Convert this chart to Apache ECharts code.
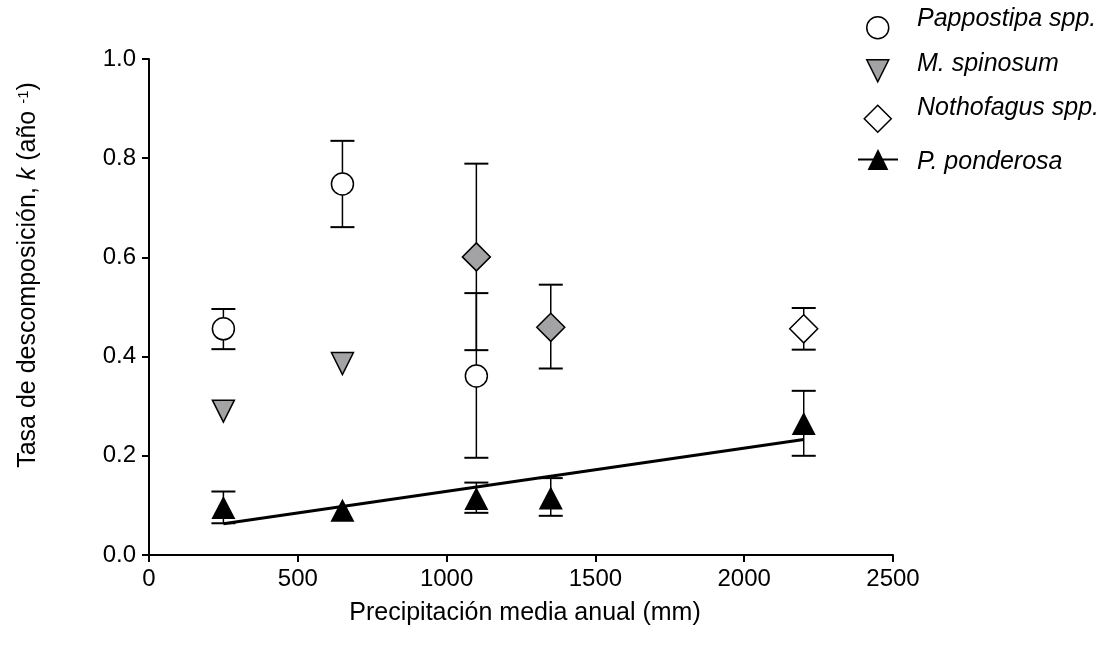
<!DOCTYPE html>
<html>
<head>
<meta charset="utf-8">
<script src="https://cdn.jsdelivr.net/npm/echarts@6/dist/echarts.min.js"></script>
<style>
  html, body { margin: 0; padding: 0; background: #ffffff; }
  #chart { width: 1108px; height: 646px; }
</style>
</head>
<body>
<div id="chart"></div>
<script>
// Tasa de descomposición k (año^-1) frente a la precipitación media anual (mm)

// Pappostipa spp. (media y límites de la barra de error)
const pappostipaX = [250, 650, 1100];
const pappostipaK = [0.456, 0.748, 0.361];
const pappostipaLow = [0.415, 0.661, 0.196];
const pappostipaHigh = [0.496, 0.835, 0.528];

// M. spinosum
const spinosumX = [250, 650];
const spinosumK = [0.290, 0.386];

// Nothofagus spp. (los dos primeros sitios con relleno gris)
const nothofagusX = [1100, 1350, 2200];
const nothofagusK = [0.601, 0.459, 0.456];
const nothofagusLow = [0.413, 0.376, 0.414];
const nothofagusHigh = [0.789, 0.545, 0.498];
const nothofagusGray = [true, true, false];

// P. ponderosa
const ponderosaX = [250, 650, 1100, 1350, 2200];
const ponderosaK = [0.096, 0.090, 0.114, 0.115, 0.265];
const ponderosaLow = [0.064, null, 0.085, 0.079, 0.200];
const ponderosaHigh = [0.128, null, 0.146, 0.155, 0.331];

// Recta de regresión de P. ponderosa
const fitX = [250, 2200];
const fitK = [0.063, 0.233];

// Marcas de los ejes
const xTicks = [0, 500, 1000, 1500, 2000, 2500];
const yTicks = [0.0, 0.2, 0.4, 0.6, 0.8, 1.0];

const FONT = "'Liberation Sans', Arial, sans-serif";
const GRAY = '#a3a3a6';
const DOWN_TRIANGLE = 'path://M0,0 L20,0 L10,20 Z';

const pairs = (xs, ys) => xs.map((x, i) => [x, ys[i]]);
const bars = (xs, lo, hi) => xs
  .map((x, i) => [x, lo[i], hi[i]])
  .filter(d => d[1] != null && d[2] != null);

// Barra de error vertical con remates horizontales
function errorBar(params, api) {
  const x = api.value(0);
  const pLo = api.coord([x, api.value(1)]);
  const pHi = api.coord([x, api.value(2)]);
  const half = 12;
  return {
    type: 'group',
    children: [
      { type: 'line', shape: { x1: pLo[0], y1: pLo[1], x2: pHi[0], y2: pHi[1] },
        style: { stroke: '#000', lineWidth: 1.5 } },
      { type: 'line', shape: { x1: pLo[0] - half, y1: pLo[1], x2: pLo[0] + half, y2: pLo[1] },
        style: { stroke: '#000', lineWidth: 2 } },
      { type: 'line', shape: { x1: pHi[0] - half, y1: pHi[1], x2: pHi[0] + half, y2: pHi[1] },
        style: { stroke: '#000', lineWidth: 2 } }
    ]
  };
}

function errorSeries(name, data) {
  return {
    name: name,
    type: 'custom',
    renderItem: errorBar,
    data: data,
    encode: { x: 0, y: [1, 2] },
    z: 2,
    silent: true
  };
}

// Leyenda: un componente para cada símbolo y otro para cada texto
function legendIcon(name, cx, cy, w, h, itemStyle, extra) {
  return Object.assign({
    data: [name],
    left: cx - w / 2,
    top: cy - h / 2,
    padding: 0,
    itemWidth: w,
    itemHeight: h,
    selectedMode: false,
    symbolKeepAspect: true,
    itemStyle: itemStyle,
    formatter: () => '',
    textStyle: { fontSize: 1 }
  }, extra || {});
}

function legendLabel(name, x, cy) {
  return {
    data: [name],
    left: x - 6,
    top: cy - 12.5,
    padding: 0,
    itemWidth: 1,
    itemHeight: 25,
    icon: 'none',
    selectedMode: false,
    textStyle: { fontFamily: FONT, fontSize: 25, fontStyle: 'italic', color: '#000', lineHeight: 25 }
  };
}

const openStyle = { color: '#fff', borderColor: '#000', borderWidth: 1.5 };

const chart = echarts.init(document.getElementById('chart'), null, { renderer: 'canvas' });

chart.setOption({
  backgroundColor: '#ffffff',
  animation: false,
  grid: { left: 149, right: 215, top: 59, bottom: 91 },
  legend: [
    legendIcon('Pappostipa spp.', 877, 27, 22, 22, openStyle),
    legendIcon('M. spinosum', 877, 70, 22, 22, { color: GRAY, borderColor: '#000', borderWidth: 1.5 }, { icon: DOWN_TRIANGLE }),
    legendIcon('Nothofagus spp.', 877, 118, 27, 27, openStyle),
    legendIcon('P. ponderosa', 877, 159.5, 40, 26, { color: '#000', borderColor: '#000', borderWidth: 0 }),
    legendLabel('Pappostipa spp.', 917, 19.5),
    legendLabel('M. spinosum', 917, 64),
    legendLabel('Nothofagus spp.', 917, 108.5),
    legendLabel('P. ponderosa', 917, 162)
  ],
  xAxis: {
    type: 'value',
    min: xTicks[0],
    max: xTicks[xTicks.length - 1],
    interval: 500,
    name: 'Precipitación media anual (mm)',
    nameLocation: 'middle',
    nameGap: 46,
    nameTextStyle: { fontFamily: FONT, fontSize: 25, color: '#000', padding: [0, 0, 0, 8] },
    axisLine: { show: true, onZero: false, lineStyle: { color: '#000', width: 2 } },
    axisTick: { show: true, inside: false, length: 7, customValues: xTicks,
      lineStyle: { color: '#000', width: 2 } },
    axisLabel: { show: true, margin: 12, customValues: xTicks,
      formatter: v => String(v),
      fontFamily: FONT, fontSize: 24, color: '#000' },
    splitLine: { show: false }
  },
  yAxis: {
    type: 'value',
    min: yTicks[0],
    max: yTicks[yTicks.length - 1],
    interval: 0.2,
    name: '{a|Tasa de descomposición, }{i|k}{a| (año }{s|-1}{a|)}',
    nameLocation: 'middle',
    nameGap: 108,
    nameTextStyle: {
      fontFamily: FONT, fontSize: 25, color: '#000',
      padding: [0, 0, 0, 64],
      rich: {
        a: { fontFamily: FONT, fontSize: 25, color: '#000' },
        i: { fontFamily: FONT, fontSize: 25, color: '#000', fontStyle: 'italic' },
        s: { fontFamily: FONT, fontSize: 15, color: '#000', verticalAlign: 'top', padding: [0, 0, 8, 0] }
      }
    },
    axisLine: { show: true, onZero: false, lineStyle: { color: '#000', width: 2 } },
    axisTick: { show: true, inside: false, length: 7, customValues: yTicks,
      lineStyle: { color: '#000', width: 2 } },
    axisLabel: { show: true, margin: 13, customValues: yTicks,
      formatter: v => Number(v).toFixed(1),
      fontFamily: FONT, fontSize: 24, color: '#000' },
    splitLine: { show: false }
  },
  series: [
    // regresión (también aporta el icono de línea en la leyenda)
    {
      name: 'P. ponderosa',
      type: 'line',
      data: pairs(fitX, fitK),
      symbol: 'triangle',
      symbolSize: 22,
      showSymbol: false,
      lineStyle: { color: '#000', width: 3 },
      itemStyle: { color: '#000' },
      z: 2,
      silent: true
    },
    errorSeries('eb-pappostipa', bars(pappostipaX, pappostipaLow, pappostipaHigh)),
    errorSeries('eb-nothofagus', bars(nothofagusX, nothofagusLow, nothofagusHigh)),
    errorSeries('eb-ponderosa', bars(ponderosaX, ponderosaLow, ponderosaHigh)),
    {
      name: 'Pappostipa spp.',
      type: 'scatter',
      data: pairs(pappostipaX, pappostipaK),
      symbol: 'circle',
      symbolSize: 22,
      itemStyle: Object.assign({ opacity: 1 }, openStyle),
      z: 4
    },
    {
      name: 'M. spinosum',
      type: 'scatter',
      data: pairs(spinosumX, spinosumK),
      symbol: 'triangle',
      symbolRotate: 180,
      symbolSize: 22,
      itemStyle: { color: GRAY, borderColor: '#000', borderWidth: 1.5, opacity: 1 },
      z: 4
    },
    {
      name: 'Nothofagus spp.',
      type: 'scatter',
      data: nothofagusX.map((x, i) => ({
        value: [x, nothofagusK[i]],
        itemStyle: { color: nothofagusGray[i] ? GRAY : '#fff' }
      })),
      symbol: 'diamond',
      symbolSize: 28,
      itemStyle: Object.assign({ opacity: 1 }, openStyle),
      z: 4
    },
    {
      name: 'P. ponderosa',
      type: 'scatter',
      data: pairs(ponderosaX, ponderosaK),
      symbol: 'triangle',
      symbolSize: [24, 23],
      itemStyle: { color: '#000', borderColor: '#000', borderWidth: 0, opacity: 1 },
      z: 4
    }
  ]
});
</script>
</body>
</html>
